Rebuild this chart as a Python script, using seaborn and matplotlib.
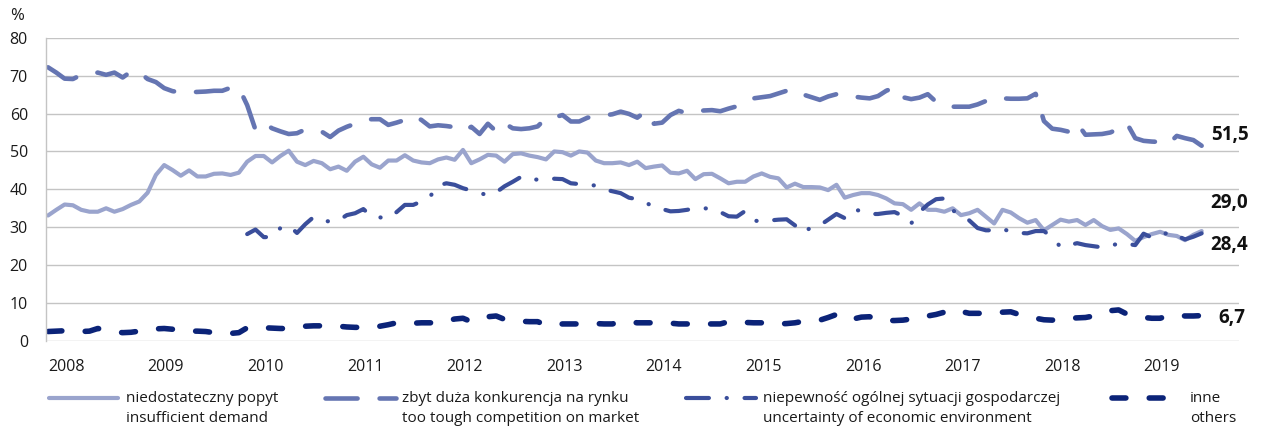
import numpy as np
import pandas as pd
import matplotlib
matplotlib.use("Agg")
import matplotlib.pyplot as plt
from matplotlib.lines import Line2D
import seaborn as sns

# Monthly survey shares (%), January 2008 - August 2019
years = list(range(2008, 2020))

demand = [
    33.1, 34.6, 36.0, 35.8, 34.6, 34.1, 34.1, 35.0, 34.1, 34.8, 35.9, 36.8,
    39.1, 43.8, 46.4, 45.1, 43.6, 45.0, 43.4, 43.4, 44.1, 44.2, 43.8, 44.4,
    47.3, 48.8, 48.8, 47.1, 48.8, 50.2, 47.3, 46.4, 47.5, 46.9, 45.3, 46.0,
    44.9, 47.3, 48.6, 46.6, 45.7, 47.6, 47.6, 49.0, 47.6, 47.1, 46.9, 47.9,
    48.4, 47.8, 50.4, 46.9, 47.9, 49.1, 48.9, 47.3, 49.3, 49.5, 48.9, 48.5,
    47.9, 50.0, 49.8, 48.9, 50.0, 49.7, 47.6, 46.9, 46.9, 47.1, 46.4, 47.3,
    45.6, 46.0, 46.3, 44.4, 44.2, 44.9, 42.7, 44.0, 44.1, 42.9, 41.6, 42.0,
    42.0, 43.4, 44.2, 43.3, 42.9, 40.5, 41.5, 40.6, 40.6, 40.5, 39.8, 41.2,
    37.8, 38.5, 39.0, 39.0, 38.5, 37.6, 36.3, 36.1, 34.6, 36.3, 34.6, 34.6,
    34.1, 35.0, 33.2, 33.7, 34.6, 32.8, 31.0, 34.6, 33.9, 32.4, 31.2, 31.9,
    29.2, 30.6, 32.0, 31.5, 31.9, 30.6, 31.9, 30.3, 29.3, 29.7, 28.2, 26.4,
    27.4, 28.2, 28.8, 28.0, 27.7, 26.6, 28.0, 29.0,
]

competition = [
    72.2, 70.8, 69.2, 69.1, 70.2, 70.5, 70.8, 70.2, 70.8, 69.5, 71.1, 70.9,
    69.1, 68.3, 66.7, 65.9, 65.6, 65.6, 65.7, 65.8, 66.0, 66.0, 66.8, 66.8,
    62.2, 55.7, 57.5, 56.1, 55.3, 54.6, 54.8, 55.8, 55.4, 55.2, 53.8, 55.5,
    56.5, 57.3, 58.3, 58.5, 58.5, 57.0, 57.6, 58.3, 59.4, 58.3, 56.6, 56.9,
    56.7, 56.4, 55.3, 56.5, 54.6, 57.3, 55.3, 57.4, 56.1, 55.9, 56.1, 56.6,
    58.8, 59.0, 59.6, 57.9, 57.9, 58.9, 59.3, 59.5, 59.8, 60.5, 59.9, 58.9,
    60.6, 57.3, 57.6, 59.6, 60.7, 60.1, 60.5, 60.8, 60.9, 60.6, 61.3, 61.9,
    63.4, 64.0, 64.3, 64.6, 65.3, 66.0, 66.4, 65.0, 64.3, 63.6, 64.5, 65.1,
    64.5, 64.5, 64.2, 64.0, 64.6, 66.0, 66.9, 64.3, 63.8, 64.2, 65.1, 63.1,
    62.0, 61.8, 61.8, 61.8, 62.4, 63.3, 64.2, 64.0, 63.9, 63.9, 64.0, 65.2,
    58.0, 56.0, 55.7, 55.2, 57.4, 54.4, 54.5, 54.6, 55.0, 56.0, 57.4, 53.5,
    52.8, 52.6, 52.5, 52.0, 54.1, 53.5, 53.0, 51.5,
]

# series starts in January 2010
uncertainty = [np.nan] * 24 + [
    28.2, 29.4, 27.4, 27.4, 29.8, 30.5, 28.5, 30.8, 32.7, 31.8, 31.5, 31.8,
    33.2, 33.7, 34.8, 32.8, 32.6, 32.4, 34.0, 35.9, 35.9, 36.8, 38.0, 41.0,
    41.6, 41.2, 40.3, 39.7, 39.0, 38.5, 39.2, 40.8, 42.0, 43.3, 42.5, 42.6,
    42.8, 42.8, 42.7, 41.6, 41.4, 41.2, 41.0, 40.0, 39.5, 39.0, 37.8, 37.4,
    36.5, 35.4, 34.8, 34.2, 34.3, 34.6, 35.0, 35.0, 34.9, 34.0, 32.9, 32.8,
    34.3, 31.8, 31.5, 31.8, 32.0, 32.1, 30.5, 28.5, 30.1, 30.5, 32.0, 33.5,
    32.4, 34.7, 34.3, 33.5, 33.5, 33.8, 34.0, 33.0, 31.0, 34.0, 36.0, 37.4,
    37.6, 34.5, 33.0, 31.8, 29.8, 29.2, 29.2, 29.6, 28.8, 28.5, 28.4, 29.0,
    29.0, 27.3, 24.8, 25.3, 25.8, 25.3, 25.0, 24.7, 25.0, 25.8, 25.6, 25.3,
    28.3, 27.3, 27.5, 28.8, 27.8, 26.8, 27.5, 28.4,
]

others = [
    2.5, 2.6, 2.7, 2.6, 2.5, 2.6, 3.3, 2.9, 2.4, 2.2, 2.3, 2.6,
    2.9, 3.2, 3.3, 3.1, 2.8, 2.6, 2.6, 2.5, 2.2, 2.0, 2.0, 2.2,
    3.5, 3.6, 3.5, 3.4, 3.3, 3.3, 3.6, 3.9, 4.0, 4.0, 4.0, 3.9,
    3.7, 3.6, 3.6, 3.5, 3.9, 4.3, 4.8, 4.6, 4.7, 4.8, 4.8, 4.8,
    5.3, 5.8, 6.0, 5.1, 5.8, 6.4, 6.6, 5.7, 5.3, 5.2, 5.1, 5.1,
    4.2, 4.3, 4.5, 4.5, 4.5, 4.5, 4.6, 4.5, 4.5, 5.1, 5.0, 4.8,
    4.8, 4.8, 4.8, 4.7, 4.5, 4.5, 4.5, 4.5, 4.5, 4.5, 5.1, 5.0,
    4.9, 4.8, 4.8, 4.5, 4.5, 4.6, 4.8, 5.2, 5.1, 5.5, 6.2, 7.0,
    5.7, 5.8, 6.3, 6.4, 5.5, 5.4, 5.4, 5.5, 5.8, 6.0, 6.6, 7.0,
    7.6, 8.4, 7.8, 7.3, 7.3, 7.3, 7.4, 7.6, 7.7, 7.0, 6.5, 6.0,
    5.6, 5.5, 6.0, 6.0, 6.1, 6.2, 6.6, 7.2, 8.0, 8.2, 7.1, 6.6,
    6.2, 6.0, 6.0, 6.7, 6.8, 6.6, 6.6, 6.7,
]

labels = [
    "niedostateczny popyt\ninsufficient demand",
    "zbyt duża konkurencja na rynku\ntoo tough competition on market",
    "niepewność ogólnej sytuacji gospodarczej\nuncertainty of economic environment",
    "inne\nothers",
]
series_values = [demand, competition, uncertainty, others]

colors = ["#9AA4CD", "#6575B2", "#3A4E9B", "#0B2378"]
widths = [3.0, 3.3, 3.0, 4.0]
dash_styles = ["", (7.0, 4.8), (5.5, 4.25, 0.05, 4.25), (2.5, 4.2)]

frames = []
for name, vals in zip(labels, series_values):
    frames.append(pd.DataFrame({"month": np.arange(len(vals)), "value": vals, "series": name}))
df = pd.concat(frames, ignore_index=True).dropna()

sns.set_theme(style="white")
plt.rcParams["font.family"] = ["Open Sans", "DejaVu Sans"]

fig = plt.figure(figsize=(12.67, 4.30), dpi=100)
W, H = 1267, 430
ax = fig.add_axes([46 / W, 1 - 341 / H, (1239 - 46) / W, (341 - 37.7) / H])

palette = dict(zip(labels, colors))
sizes = dict(zip(labels, widths))
dashes = dict(zip(labels, dash_styles))

sns.lineplot(
    data=df, x="month", y="value", hue="series", style="series", size="series",
    hue_order=labels, style_order=labels, size_order=labels,
    palette=palette, sizes=sizes, dashes=dashes, estimator=None,
    legend=False, ax=ax, dash_capstyle="round", solid_capstyle="round",
    solid_joinstyle="round", dash_joinstyle="round",
)

ax.set_xlim(-0.24, 143.5)
ax.set_ylim(0, 80)
ax.set_yticks(range(0, 81, 10))
ax.set_yticklabels([str(v) for v in range(0, 81, 10)], fontsize=11.5, color="#1a1a1a")
ax.set_xticks([12 * k for k in range(len(years))])
ax.set_xticklabels([str(y) for y in years], fontsize=11.5, color="#1a1a1a", ha="left")
ax.tick_params(axis="both", length=0)
ax.tick_params(axis="x", pad=13)
ax.tick_params(axis="y", pad=13)
ax.set_xlabel("")
ax.set_ylabel("")
ax.grid(axis="y", color="#C4C4C4", linewidth=1.0)
ax.set_axisbelow(True)
for side in ["top", "right", "bottom"]:
    ax.spines[side].set_visible(False)
ax.spines["left"].set_color("#C4C4C4")
ax.spines["left"].set_linewidth(1.0)

fig.text(10 / W, 1 - 16 / H, "%", fontsize=12, color="#1a1a1a", va="center", ha="left")

# end-of-series value labels
label_y = [36.4, 54.4, 25.3, 6.1]
label_x = [140.1, 140.2, 140.0, 141.0]
for vals, lx, ly in zip(series_values, label_x, label_y):
    txt = f"{vals[-1]:.1f}".replace(".", ",")
    ax.text(lx, ly, txt, fontsize=13.5, fontweight="bold", color="#111111",
            va="center", ha="left")

# legend below the plot
handle_x = [(49, 118), (325, 396), (686, 756), (1112, 1178)]
text_x = [126, 402, 763, 1190]
row1_y, row2_y = 398, 418
for (x0, x1), tx, name, col, lw, ds in zip(handle_x, text_x, labels, colors, widths, dash_styles):
    line = Line2D([x0 / W, x1 / W], [1 - row1_y / H] * 2, transform=fig.transFigure,
                  color=col, linewidth=lw, solid_capstyle="round", dash_capstyle="round")
    if ds:
        line.set_dashes(ds)
    fig.add_artist(line)
    first, second = name.split("\n")
    fig.text(tx / W, 1 - row1_y / H, first, fontsize=11, color="#1a1a1a", va="center", ha="left")
    fig.text(tx / W, 1 - row2_y / H, second, fontsize=11, color="#1a1a1a", va="center", ha="left")

fig.savefig("out.png", dpi=100)
